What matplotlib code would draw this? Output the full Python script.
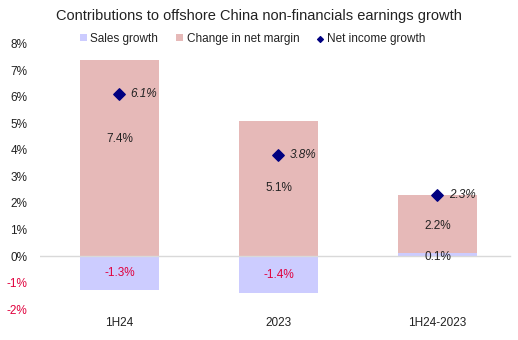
import matplotlib.pyplot as plt
import numpy as np

plt.rcParams["font.family"] = ["Liberation Sans", "DejaVu Sans"]

# Contributions (percentage points)
categories = ["1H24", "2023", "1H24-2023"]
sales_growth = [-1.3, -1.4, 0.1]
margin_change = [7.4, 5.1, 2.2]
net_income_growth = [6.1, 3.8, 2.3]
y_ticks = [-2, -1, 0, 1, 2, 3, 4, 5, 6, 7, 8]

SALES_COLOR = "#ccccff"
MARGIN_COLOR = "#e6b9b8"
NI_COLOR = "#000080"
NEG_COLOR = "#e0003c"
TEXT_COLOR = "#222222"
FS = 8.5

fig = plt.figure(figsize=(5.18, 3.4), dpi=100)
ax = fig.add_axes([0.077, 0.091, 0.921, 0.78])

x = np.arange(len(categories))
sales = np.array(sales_growth)
margin = np.array(margin_change)
base = np.where(sales > 0, sales, 0)

h_sales = ax.bar(x, sales, width=0.5, color=SALES_COLOR, label="Sales growth", zorder=2)
h_margin = ax.bar(x, margin, width=0.5, bottom=base, color=MARGIN_COLOR,
                  label="Change in net margin", zorder=2)
h_ni = ax.scatter(x, net_income_growth, marker="D", s=34, color=NI_COLOR,
                  label="Net income growth", zorder=4)

ax.axhline(0, color="#d9d9d9", lw=1, xmax=0.985, zorder=3)

# value labels
margin_label_y = [4.4, 2.55, 1.15]
for xi, m, yl in zip(x, margin, margin_label_y):
    ax.text(xi, yl, f"{m:.1f}%", ha="center", va="center", fontsize=FS,
            color=TEXT_COLOR, zorder=5)
for xi, s in zip(x, sales):
    yl = s / 2 if s < 0 else -0.02
    ax.text(xi, yl, f"{s:.1f}%", ha="center", va="center", fontsize=FS,
            color=NEG_COLOR if s < 0 else TEXT_COLOR, zorder=5)
for xi, v in zip(x, net_income_growth):
    ax.text(xi + 0.07, v, f"{v:.1f}%", ha="left", va="center", fontsize=FS,
            style="italic", color=TEXT_COLOR, zorder=5)

ax.set_xlim(-0.5, 2.5)
ax.set_ylim(-2, 8)
ax.set_yticks(y_ticks)
ax.set_yticklabels([f"{t}%" for t in y_ticks], fontsize=FS)
for lbl, t in zip(ax.get_yticklabels(), y_ticks):
    lbl.set_color(NEG_COLOR if t < 0 else TEXT_COLOR)
ax.set_xticks(x)
ax.set_xticklabels(categories, fontsize=FS, color=TEXT_COLOR)
ax.tick_params(axis="y", length=0, pad=9)
ax.tick_params(axis="x", length=0, pad=6)
for sp in ax.spines.values():
    sp.set_visible(False)

fig.text(0.5, 0.953, "Contributions to offshore China non-financials earnings growth",
         ha="center", va="center", fontsize=10.5, color=TEXT_COLOR)

fig.legend([h_sales, h_margin, h_ni],
           ["Sales growth", "Change in net margin", "Net income growth"],
           loc="center", bbox_to_anchor=(0.488, 0.886), ncol=3, frameon=False,
           fontsize=FS, handlelength=0.6, handleheight=0.6, handletextpad=0.3,
           columnspacing=1.5, markerscale=0.5, labelcolor=TEXT_COLOR)

fig.savefig("out.png", dpi=100)
